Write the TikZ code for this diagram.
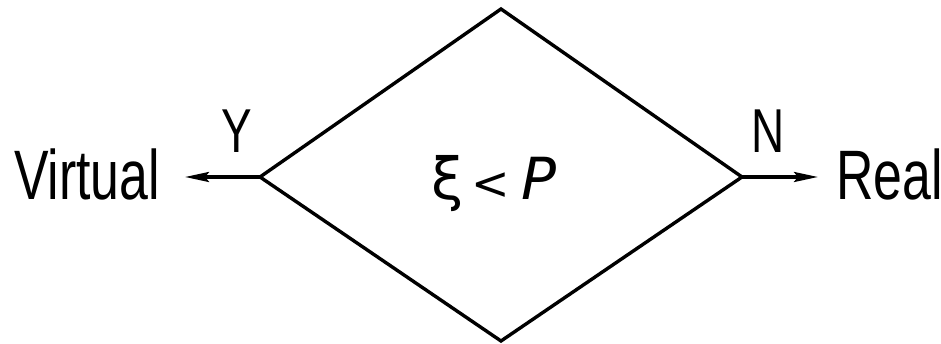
\documentclass[tikz,border=0pt]{standalone}
\usepackage{fontspec}
\setmainfont[FakeStretch=0.74]{Liberation Sans}
\newfontfamily\mathsans{DejaVu Sans}
\usetikzlibrary{arrows.meta}
\begin{document}
\begin{tikzpicture}[x=1pt,y=1pt,
  edge/.style={line width=3.4pt},
  conn/.style={line width=3.2pt,-{Stealth[length=24pt,width=10pt,inset=4pt]}},
  lbl/.style={inner sep=0pt,font=\fontsize{70}{70}\selectfont},
  small/.style={inner sep=0pt,font=\fontsize{62}{62}\selectfont}]
\useasboundingbox (0,0) rectangle (941,344);
\coordinate (T) at (501,335);
\coordinate (B) at (501,3);
\coordinate (L) at (260,167);
\coordinate (R) at (742,167);
\draw[edge,line join=miter] (T) -- (R) -- (B) -- (L) -- cycle;
\node[lbl,anchor=base west] (virt) at (14,144) {Virtual};
\node[lbl,anchor=base west] (real) at (836,144) {Real};
\coordinate (vt) at (185,167);
\coordinate (rt) at (818,167);
\draw[conn] (L) -- (vt);
\draw[conn] (R) -- (rt);
\node[small,anchor=base] (Y) at (237,191) {Y};
\node[small,anchor=base] (N) at (768,191) {N};
\node[inner sep=0pt,anchor=base,font=\fontsize{58}{58}\mathsans] (cond) at (494,144) {ξ\hspace{8pt}{\fontsize{46}{46}\selectfont<}\hspace{12pt}\textit{P}};
\end{tikzpicture}
\end{document}
